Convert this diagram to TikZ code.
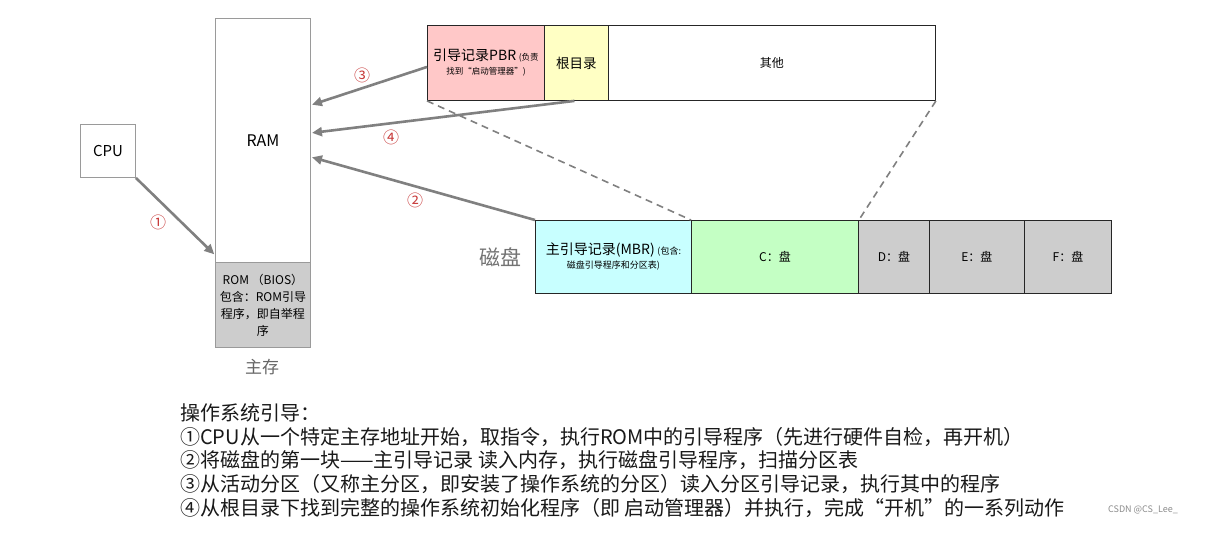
\documentclass[tikz,border=0pt]{standalone}
\usepackage{fontspec}
\setmainfont{Noto Sans CJK SC}
\usetikzlibrary{arrows.meta}
\newcommand{\fz}[2]{\fontsize{#1}{#2}\selectfont}
\definecolor{arrowgray}{HTML}{808080}
\definecolor{edgegray}{HTML}{9A9A9A}
\definecolor{pbrpink}{HTML}{FFC8C8}
\definecolor{rootyellow}{HTML}{FFFFC4}
\definecolor{mbrcyan}{HTML}{C8FFFF}
\definecolor{cgreen}{HTML}{C4FFC4}
\definecolor{diskgray}{HTML}{CDCDCD}
\definecolor{numred}{HTML}{C83A3A}
\tikzset{
  memblock/.style={draw=edgegray, line width=0.9pt, anchor=north west, inner sep=0pt, align=center},
  seg/.style={draw=black!85, line width=0.9pt, anchor=north west, inner sep=0pt, align=center, font=\fz{12}{15}},
  flow/.style={draw=arrowgray, line width=2.6pt, -{Triangle[length=10pt,width=9pt]}, shorten >=1pt},
  zoomline/.style={draw=arrowgray, line width=1.6pt, dash pattern=on 7pt off 5pt},
  stepnum/.style={text=numred, font=\fz{16}{19}, inner sep=0pt},
  caption/.style={text=black!55, inner sep=0pt},
  steptext/.style={anchor=base west, inner sep=0pt, font=\fz{20}{24}, text=black!90}
}
\begin{document}
\begin{tikzpicture}[x=1pt,y=-1pt]
\useasboundingbox[fill=white] (0,0) rectangle (1208,547);

% main memory: RAM above ROM
\node[memblock, minimum width=55pt, minimum height=53pt, font=\fz{15}{18}] (cpu) at (80,124) {CPU};
\node[memblock, minimum width=95pt, minimum height=244pt, font=\fz{16}{19}] (ram) at (215,18) {RAM};
\node[memblock, fill=diskgray, minimum width=95pt, minimum height=85pt, font=\fz{12}{17}] (rom) at (215,262)
  {ROM （BIOS）\\包含：ROM引导\\程序，即自举程\\序};
\node[caption, text=black!60, font=\fz{17}{20}] (mem) at (262,367) {主存};

% partition boot sector layout
\node[seg, fill=pbrpink, minimum width=117pt, minimum height=75pt] (pbr) at (427,25)
  {{\fz{14}{16}引导记录PBR} {\fz{8.5}{10}(负责}\\[-1pt]{\fz{8.5}{10}找到“启动管理器”)}};
\node[seg, fill=rootyellow, minimum width=64pt, minimum height=75pt, font=\fz{13.5}{16}] (root) at (544,25) {根目录};
\node[seg, minimum width=327pt, minimum height=75pt] (other) at (608,25) {其他};

% disk layout
\node[caption, font=\fz{21}{24}] (disk) at (500,257) {磁盘};
\node[seg, fill=mbrcyan, minimum width=156pt, minimum height=73pt] (mbr) at (535,220)
  {{\fz{14}{16}主引导记录(MBR)} {\fz{9}{10}(包含:}\\[-1pt]{\fz{9}{11}磁盘引导程序和分区表)}};
\node[seg, fill=cgreen, minimum width=167pt, minimum height=73pt] (cd) at (691,220) {C：盘};
\node[seg, fill=diskgray, minimum width=71pt, minimum height=73pt] (dd) at (858,220) {D：盘};
\node[seg, fill=diskgray, minimum width=95pt, minimum height=73pt] (ed) at (929,220) {E：盘};
\node[seg, fill=diskgray, minimum width=87pt, minimum height=73pt] (fd) at (1024,220) {F：盘};

% C: partition expanded above
\draw[zoomline] (pbr.south west) -- (cd.north west);
\draw[zoomline] (other.south east) -- (cd.north east);

% boot sequence arrows
\coordinate (in1) at (215,255);
\coordinate (in3) at (311,105);
\coordinate (in4) at (311,133);
\coordinate (in2) at (311,157);
\draw[flow] (cpu.south east) -- (in1);
\draw[flow] ([yshift=-4pt]pbr.west) -- (in3);
\draw[flow] ([xshift=-2pt]root.south) -- (in4);
\draw[flow] (mbr.north west) -- (in2);

\node[stepnum] (n1) at (158,222) {①};
\node[stepnum] (n2) at (415,200) {②};
\node[stepnum] (n3) at (362,75) {③};
\node[stepnum] (n4) at (391,137) {④};

% explanation
\node[steptext] (t0) at (180,420) {操作系统引导：};
\node[steptext] (t1) at (180,444) {①CPU从一个特定主存地址开始，取指令，执行ROM中的引导程序（先进行硬件自检，再开机）};
\node[steptext] (t2) at (180,467) {②将磁盘的第一块——主引导记录 读入内存，执行磁盘引导程序，扫描分区表};
\node[steptext] (t3) at (180,491) {③从活动分区（又称主分区，即安装了操作系统的分区）读入分区引导记录，执行其中的程序};
\node[steptext] (t4) at (180,515) {④从根目录下找到完整的操作系统初始化程序（即 启动管理器）并执行，完成“开机”的一系列动作};

\node[text=black!45, font=\fz{9}{11}, inner sep=0pt] (csdn) at (1143,510) {CSDN @CS\_Lee\_};
\end{tikzpicture}
\end{document}
